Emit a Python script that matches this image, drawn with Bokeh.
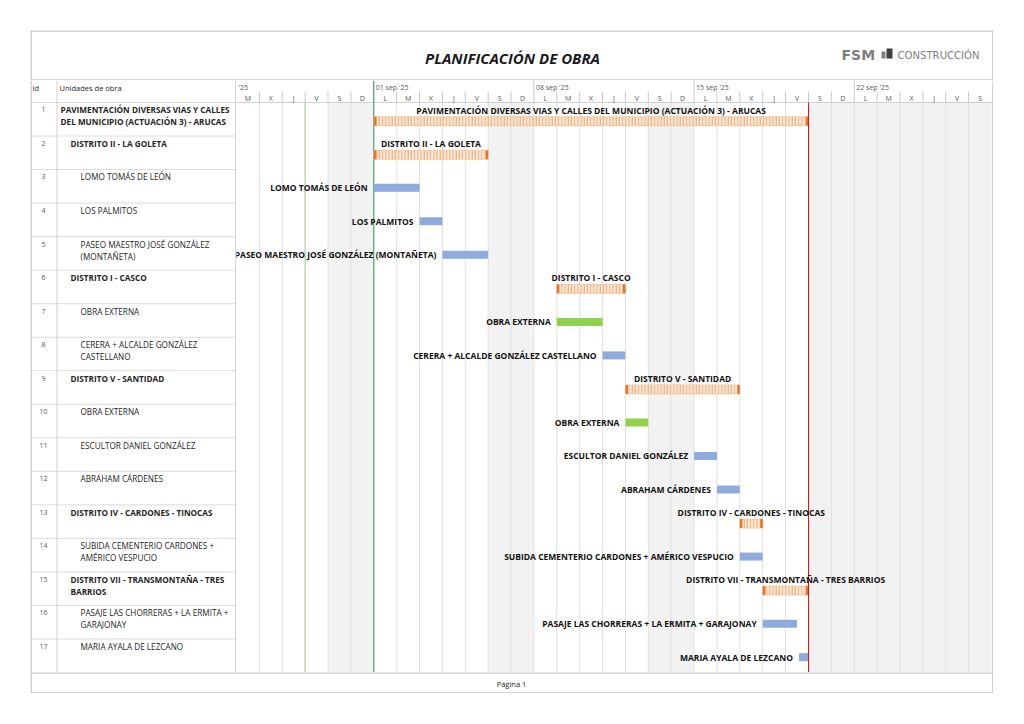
import datetime as dt
from bokeh.plotting import figure
from bokeh.models import Range1d, ColumnDataSource, Spacer
from bokeh.layouts import column, row
from bokeh.embed import file_html
from bokeh.resources import INLINE
from bokeh.core.properties import value

# ---------------- data ----------------
ids = list(range(1, 18))
names = [
    "PAVIMENTACIÓN DIVERSAS VIAS Y CALLES\nDEL MUNICIPIO (ACTUACIÓN 3) - ARUCAS",
    "DISTRITO II - LA GOLETA",
    "LOMO TOMÁS DE LEÓN",
    "LOS PALMITOS",
    "PASEO MAESTRO JOSÉ GONZÁLEZ\n(MONTAÑETA)",
    "DISTRITO I - CASCO",
    "OBRA EXTERNA",
    "CERERA + ALCALDE GONZÁLEZ\nCASTELLANO",
    "DISTRITO V - SANTIDAD",
    "OBRA EXTERNA",
    "ESCULTOR DANIEL GONZÁLEZ",
    "ABRAHAM CÁRDENES",
    "DISTRITO IV - CARDONES - TINOCAS",
    "SUBIDA CEMENTERIO CARDONES +\nAMÉRICO VESPUCIO",
    "DISTRITO VII - TRANSMONTAÑA - TRES\nBARRIOS",
    "PASAJE LAS CHORRERAS + LA ERMITA +\nGARAJONAY",
    "MARIA AYALA DE LEZCANO",
]
levels = [0, 1, 2, 2, 2, 1, 2, 2, 1, 2, 2, 2, 1, 2, 1, 2, 2]
task_types = ["summary", "summary", "task", "task", "task", "summary", "external", "task",
              "summary", "external", "task", "task", "summary", "task", "summary", "task", "task"]
starts = ["2025-09-01 00:00", "2025-09-01 00:00", "2025-09-01 00:00", "2025-09-03 00:00",
          "2025-09-04 00:00", "2025-09-09 00:00", "2025-09-09 00:00", "2025-09-11 00:00",
          "2025-09-12 00:00", "2025-09-12 00:00", "2025-09-15 00:00", "2025-09-16 00:00",
          "2025-09-17 00:00", "2025-09-17 00:00", "2025-09-18 00:00", "2025-09-18 00:00",
          "2025-09-19 14:00"]
ends = ["2025-09-20 00:00", "2025-09-06 00:00", "2025-09-03 00:00", "2025-09-04 00:00",
        "2025-09-06 00:00", "2025-09-12 00:00", "2025-09-11 00:00", "2025-09-12 00:00",
        "2025-09-17 00:00", "2025-09-13 00:00", "2025-09-16 00:00", "2025-09-17 00:00",
        "2025-09-18 00:00", "2025-09-18 00:00", "2025-09-20 00:00", "2025-09-19 12:00",
        "2025-09-20 00:00"]
week_labels = ["'25", "01 sep '25", "08 sep '25", "15 sep '25", "22 sep '25"]
week_starts = ["2025-08-26", "2025-09-01", "2025-09-08", "2025-09-15", "2025-09-22"]
day_letters = ["L", "M", "X", "J", "V", "S", "D"]
timeline_start = "2025-08-26"
timeline_days = 33
status_date = "2025-08-29"
project_start = "2025-09-01"
project_finish = "2025-09-20"
title_text = "PLANIFICACIÓN DE OBRA"
footer_text = "Página 1"

# ---------------- styling / geometry ----------------
FONT = "Open Sans"
W_ALL = 963
H_TITLE = 50
H_MID = 592
H_FOOT = 21
W_TABLE = 206
W_GANTT = W_ALL - W_TABLE
HDR_PX = 22
RH = (H_MID - HDR_PX) / 17.0
HDR = HDR_PX / RH
FRAME = "#a6a6a6"
GRID = "#e1e1e1"
TXT = "#262626"

def P(d):
    return dt.datetime.fromisoformat(d)

def base_fig(w, h, **kw):
    p = figure(width=w, height=h, toolbar_location=None, output_backend="svg",
               min_border=0, outline_line_color=None, background_fill_color="white",
               border_fill_color="white", **kw)
    p.axis.visible = False
    p.grid.visible = False
    return p

n = len(ids)
s_dt = [P(s) for s in starts]
e_dt = [P(e) for e in ends]
row_top = [i for i in range(n)]

# ---------------- title ----------------
pt = base_fig(W_ALL, H_TITLE, x_range=Range1d(0, W_ALL), y_range=Range1d(H_TITLE, 0))
pt.segment(x0=[0.5, 0.5, W_ALL - 0.5, 0], y0=[0.5, 0, 0, H_TITLE - 0.5],
           x1=[W_ALL - 0.5, 0.5, W_ALL - 0.5, W_ALL], y1=[0.5, H_TITLE, H_TITLE, H_TITLE - 0.5],
           line_color=FRAME, line_width=1)
pt.text(x=[482], y=[27], text=[title_text], text_font=value(FONT), text_font_style="bold italic",
        text_font_size="15px", text_align="center", text_baseline="middle", text_color="#1a1a1a")
pt.text(x=[811], y=[24], text=["FSM"], text_font=value("DejaVu Sans"), text_font_style="bold",
        text_font_size="14px", text_align="left", text_baseline="middle", text_color="#7f7f7f")
pt.quad(left=[851, 856], right=[855, 862], top=[21, 18], bottom=[28, 28],
        fill_color=["#7f7f7f", "#404040"], line_color=None)
pt.text(x=[867], y=[24.5], text=["CONSTRUCCIÓN"], text_font=value("DejaVu Sans"),
        text_font_size="10.1px", text_align="left", text_baseline="middle", text_color="#7f7f7f")

# ---------------- table ----------------
ptab = base_fig(W_TABLE, H_MID, x_range=Range1d(0, W_TABLE), y_range=Range1d(17, -HDR))
ptab.segment(x0=[0] * 18, y0=list(range(0, 18)), x1=[W_TABLE] * 18, y1=list(range(0, 18)),
             line_color="#dcdcdc", line_width=1)
ptab.segment(x0=[26.5], y0=[-HDR], x1=[26.5], y1=[17], line_color="#d0d0d0", line_width=1)
ptab.segment(x0=[0.5, W_TABLE - 0.5], y0=[-HDR, -HDR], x1=[0.5, W_TABLE - 0.5], y1=[17, 17],
             line_color=FRAME, line_width=1)
ptab.text(x=[2, 29], y=[-HDR + 7 / RH] * 2, text=["Id", "Unidades de obra"],
          text_font=value(FONT), text_font_size="7.5px", text_baseline="middle",
          text_color=TXT)
ptab.text(x=[13] * n, y=[t + 7.4 / RH for t in row_top], text=[str(i) for i in ids],
          text_font=value(FONT), text_font_size="7px", text_align="center",
          text_baseline="middle", text_color="#595959")
lx, ly, lt, lb = [], [], [], []
for i in range(n):
    for k, line in enumerate(names[i].split("\n")):
        lx.append(30 + 10 * levels[i])
        ly.append(row_top[i] + (7.4 + 12 * k) / RH)
        lt.append(line)
        lb.append("bold" if task_types[i] == "summary" else "normal")
src_names = ColumnDataSource(dict(x=lx, y=ly, t=lt, b=lb))
ptab.text(x="x", y="y", text="t", text_font_style="b", source=src_names,
          text_font=value(FONT), text_font_size="8.2px", text_baseline="middle", text_color=TXT)

# ---------------- gantt ----------------
x0 = P(timeline_start)
ppd = (W_GANTT - 2) / timeline_days
x1 = x0 + dt.timedelta(days=W_GANTT / ppd)
px = lambda k: dt.timedelta(days=k / ppd)
pg = base_fig(W_GANTT, H_MID, x_axis_type="datetime",
              x_range=Range1d(x0, x1), y_range=Range1d(17, -HDR))

days = [x0 + dt.timedelta(days=i) for i in range(timeline_days)]
finish = P(project_finish)
shade = [d for d in days if d.weekday() >= 5 or d >= finish]
pg.quad(left=shade, right=[d + dt.timedelta(days=1) for d in shade], top=0, bottom=17,
        fill_color="#f2f2f2", line_color=None)
# gridlines
pg.segment(x0=days[1:], y0=0, x1=days[1:], y1=17, line_color=GRID, line_width=1)
mondays = [d for d in days if d.weekday() == 0]
others = [d for d in days[1:] if d.weekday() != 0]
pg.segment(x0=mondays, y0=-HDR, x1=mondays, y1=0, line_color="#c8c8c8", line_width=1)
pg.segment(x0=others, y0=-HDR * 0.5, x1=others, y1=0, line_color="#c8c8c8", line_width=1)
pg.segment(x0=[x0], y0=[0], x1=[x1], y1=[0], line_color="#cfcfcf", line_width=1)
# header texts
pg.text(x=[d + dt.timedelta(hours=12) for d in days], y=-HDR + 17.5 / RH,
        text=[day_letters[d.weekday()] for d in days], text_font=value(FONT),
        text_font_size="7px", text_align="center", text_baseline="middle", text_color="#595959")
pg.text(x=[P(w) for w in week_starts], y=-HDR + 6.5 / RH, text=week_labels, x_offset=2,
        text_font=value(FONT), text_font_size="7px", text_align="left",
        text_baseline="middle", text_color="#595959")
# status / start / finish lines
pg.segment(x0=[P(status_date)], y0=[0], x1=[P(status_date)], y1=[17],
           line_color="#a9d08e", line_width=1)
pg.segment(x0=[P(project_start)], y0=[-HDR], x1=[P(project_start)], y1=[17],
           line_color="#2ca05a", line_width=1)

# task bars
colors = {"task": "#8faadc", "external": "#92d050"}
t_idx = [i for i in range(n) if task_types[i] != "summary"]
src_t = ColumnDataSource(dict(
    y=[row_top[i] + 18.2 / RH for i in t_idx],
    l=[s_dt[i] for i in t_idx], r=[e_dt[i] for i in t_idx],
    c=[colors[task_types[i]] for i in t_idx],
    lab=[names[i].replace("\n", " ") for i in t_idx]))
pg.hbar(y="y", left="l", right="r", height=8 / RH, fill_color="c", line_color=None, source=src_t)
pg.text(x="l", y="y", text="lab", source=src_t, x_offset=-6, text_font=value(FONT),
        text_font_style="bold", text_font_size="8.5px", text_align="right",
        text_baseline="middle", text_color="#111111")

# summary bars
s_idx = [i for i in range(n) if task_types[i] == "summary"]
src_s = ColumnDataSource(dict(
    y=[row_top[i] + 18.7 / RH for i in s_idx],
    ly=[row_top[i] + 7.6 / RH for i in s_idx],
    l=[s_dt[i] for i in s_idx], r=[e_dt[i] for i in s_idx],
    m=[s_dt[i] + (e_dt[i] - s_dt[i]) / 2 for i in s_idx],
    cl=[s_dt[i] + px(2.5) for i in s_idx], cr=[e_dt[i] - px(2.5) for i in s_idx],
    lab=[names[i].replace("\n", " ") for i in s_idx]))
pg.hbar(y="y", left="l", right="r", height=9 / RH, fill_color="#fdebdc",
        line_color="#f4b183", line_width=0.6, hatch_pattern="vertical_line",
        hatch_color="#f0a468", hatch_scale=3.2, hatch_weight=1, source=src_s)
pg.hbar(y="y", left="l", right="cl", height=9 / RH, fill_color="#e2782f", line_color=None,
        source=src_s)
pg.hbar(y="y", left="cr", right="r", height=9 / RH, fill_color="#e2782f", line_color=None,
        source=src_s)
# finish line drawn over the bars
pg.segment(x0=[finish], y0=[0], x1=[finish], y1=[17], line_color="#d01010", line_width=1)
pg.text(x="m", y="ly", text="lab", source=src_s, text_font=value(FONT),
        text_font_style="bold", text_font_size="8.5px", text_align="center",
        text_baseline="middle", text_color="#111111")
# frame right border
pg.segment(x0=[x0 + px(W_GANTT - 0.5)], y0=[-HDR], x1=[x0 + px(W_GANTT - 0.5)], y1=[17],
           line_color=FRAME, line_width=1)

# ---------------- footer ----------------
pf = base_fig(W_ALL, H_FOOT, x_range=Range1d(0, W_ALL), y_range=Range1d(H_FOOT, 0))
pf.segment(x0=[0, 0.5, W_ALL - 0.5, 0], y0=[0.5, 0, 0, H_FOOT - 0.5],
           x1=[W_ALL, 0.5, W_ALL - 0.5, W_ALL], y1=[0.5, H_FOOT, H_FOOT, H_FOOT - 0.5],
           line_color=FRAME, line_width=1)
pf.text(x=[481], y=[11], text=[footer_text], text_font=value(FONT), text_font_size="7.5px",
        text_align="center", text_baseline="middle", text_color=TXT)

layout = column(Spacer(height=30),
                row(Spacer(width=30),
                    column(pt, row(ptab, pg), pf)))
open("out.html", "w").write(file_html(layout, INLINE))
